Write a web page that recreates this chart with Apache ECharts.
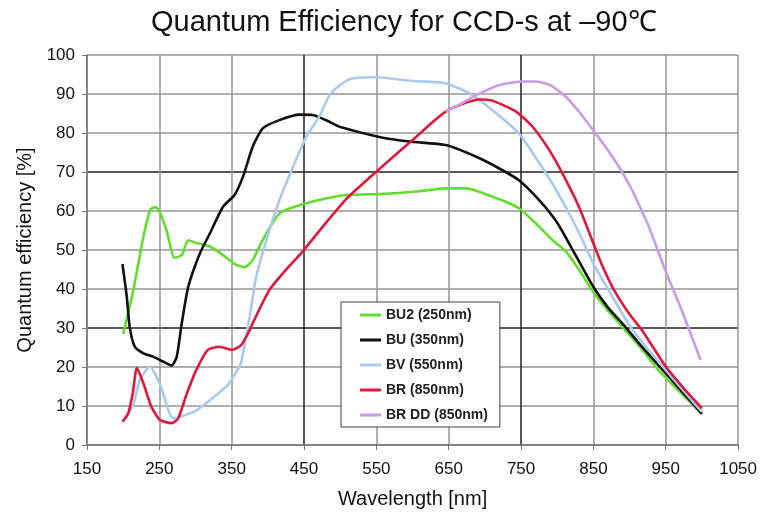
<!DOCTYPE html>
<html><head><meta charset="utf-8">
<script src="https://cdn.jsdelivr.net/npm/echarts@6/dist/echarts.min.js"></script>
<style>html,body{margin:0;padding:0;background:#fff}#c{width:760px;height:515px}</style>
</head><body><div id="c"></div><script>
const titleText = 'Quantum Efficiency for CCD-s at –90℃';
const xName = 'Wavelength [nm]';
const yName = 'Quantum efficiency [%]';
const seriesNames = ['BU2 (250nm)', 'BU (350nm)', 'BV (550nm)', 'BR (850nm)', 'BR DD (850nm)'];

const bu2 = [[200,28.5],[214,39.7],[228,53.4],[238,60.5],[245,61],[251,59.5],[260,55],[271,48],[281,48.7],[290,52.5],[301,51.8],[320,50.9],[338,48.7],[356,46.2],[368,45.6],[379,47.4],[393,52.6],[416,59.4],[444,61.5],[471,62.8],[508,64.1],[559,64.4],[605,65],[646,65.8],[674,65.8],[710,63.7],[747,60.7],[775,56],[793,52.6],[812,49.6],[830,45],[848,39.7],[870,34.5],[890,30.3],[915,25],[940,19.2],[970,13.5],[1000,8]];
const bu = [[199,46.4],[205,38],[209,30.3],[216,25.2],[228,23.5],[242,22.6],[255,21.4],[267,20.4],[274,22.6],[281,31.2],[290,40.6],[306,49.1],[320,54.3],[338,61.1],[354,64.1],[366,69],[379,76.5],[393,81.2],[416,83.3],[444,84.7],[462,84.6],[485,82.9],[499,81.6],[554,79],[596,77.8],[646,76.9],[688,73.9],[720,70.9],[747,67.9],[775,62.8],[800,57],[825,48.8],[850,40.5],[870,35.3],[894,30.3],[917,25.2],[950,18.4],[975,13.2],[1000,8]];
const bv = [[202,6.4],[214,10.3],[223,16.7],[237,20.1],[251,15.5],[269,6.8],[283,7.5],[301,8.8],[320,11.5],[345,15.4],[357,19],[363,21],[370,28],[375,33],[384,43.2],[398,52.6],[416,62.8],[435,71.4],[453,79],[471,84.2],[487,90.2],[513,93.8],[550,94.3],[596,93.4],[646,92.7],[678,90.2],[710,85.9],[747,79.9],[770,73.8],[790,68],[810,61.6],[830,54.5],[850,46.5],[871,39.7],[904,29.5],[950,19.2],[975,13.8],[1000,8.5]];
const br = [[199,6],[207,8.1],[213,13],[219,19.8],[228,15.8],[239,9.8],[251,6.4],[267,5.6],[276,6.8],[288,13.2],[301,19.2],[317,24.4],[333,25.2],[350,24.4],[363,25.6],[375,29.5],[379,31.2],[402,39.7],[425,44.9],[448,49.6],[476,56],[508,63],[550,70.1],[600,78.2],[646,85.5],[692,88.6],[710,88.3],[743,85.5],[766,81.6],[789,75.6],[807,69.7],[830,61.1],[846,53.6],[860,47],[878,39.9],[900,33.5],[917,29.5],[950,20.1],[975,14.5],[1000,9.4]];
const brdd = [[646,85.5],[670,87.8],[688,89.7],[720,92.3],[752,93.2],[770,93.2],[790,92.3],[812,89.3],[832,85],[853,79.9],[870,75.6],[885,71.4],[900,66.6],[913,61.6],[927,55.8],[950,44.5],[970,35.5],[986,27.8],[998,21.8]];

const seriesData = [bu2, bu, bv, br, brdd];
const colors = ['#62dd2c', '#111111', '#a9c9ee', '#e0173c', '#c99be8'];

const gl = '#959595', gd = '#222222';
const chart = echarts.init(document.getElementById('c'), null, {renderer: 'canvas'});
chart.setOption({
  animation: false,
  backgroundColor: '#ffffff',
  title: {
    text: titleText, left: 146, top: 3,
    textStyle: {fontFamily: 'Liberation Sans', fontSize: 29, fontWeight: 'normal', color: '#111'}
  },
  grid: {left: 87, right: 20, top: 55, bottom: 70, containLabel: false},
  legend: {
    orient: 'vertical', left: 341, top: 302,
    data: seriesNames,
    backgroundColor: '#ffffff', borderColor: '#444', borderWidth: 1,
    padding: [5, 12, 4, 19],
    itemWidth: 21, itemHeight: 3, itemGap: 9, icon: 'rect',
    textStyle: {fontFamily: 'Liberation Sans', fontSize: 14, fontWeight: 'bold', color: '#222', lineHeight: 16}
  },
  xAxis: {
    type: 'value', min: 150, max: 1050, interval: 100,
    name: xName, nameLocation: 'middle', nameGap: 44,
    nameTextStyle: {fontFamily: 'Liberation Sans', fontSize: 20, color: '#111'},
    axisLine: {show: true, lineStyle: {color: '#777', width: 1.5}},
    axisTick: {show: true, length: 5, lineStyle: {color: '#777'}},
    axisLabel: {fontFamily: 'Liberation Sans', fontSize: 17, color: '#111', margin: 16, formatter: v => String(v)},
    splitLine: {show: true, lineStyle: {width: 1.5, color: [gl, gl, gl, gd, gl, gl, gd, gl, gl, gl]}}
  },
  yAxis: {
    type: 'value', min: 0, max: 100, interval: 10,
    name: yName, nameLocation: 'middle', nameGap: 50, nameRotate: 90,
    nameTextStyle: {fontFamily: 'Liberation Sans', fontSize: 20, color: '#111'},
    axisLine: {show: true, lineStyle: {color: '#777', width: 1.5}},
    axisTick: {show: true, length: 5, lineStyle: {color: '#777'}},
    axisLabel: {fontFamily: 'Liberation Sans', fontSize: 17, color: '#111', margin: 12},
    splitLine: {show: true, lineStyle: {width: 1.5, color: [gl, gl, gl, gd, gl, gl, gl, gd, gl, gl, gl]}}
  },
  series: seriesData.map((d, i) => ({
    name: seriesNames[i], type: 'line', data: d, smooth: 0.2,
    symbol: 'none', lineStyle: {width: 2.6, color: colors[i]}, itemStyle: {color: colors[i]}
  }))
});
</script></body></html>
